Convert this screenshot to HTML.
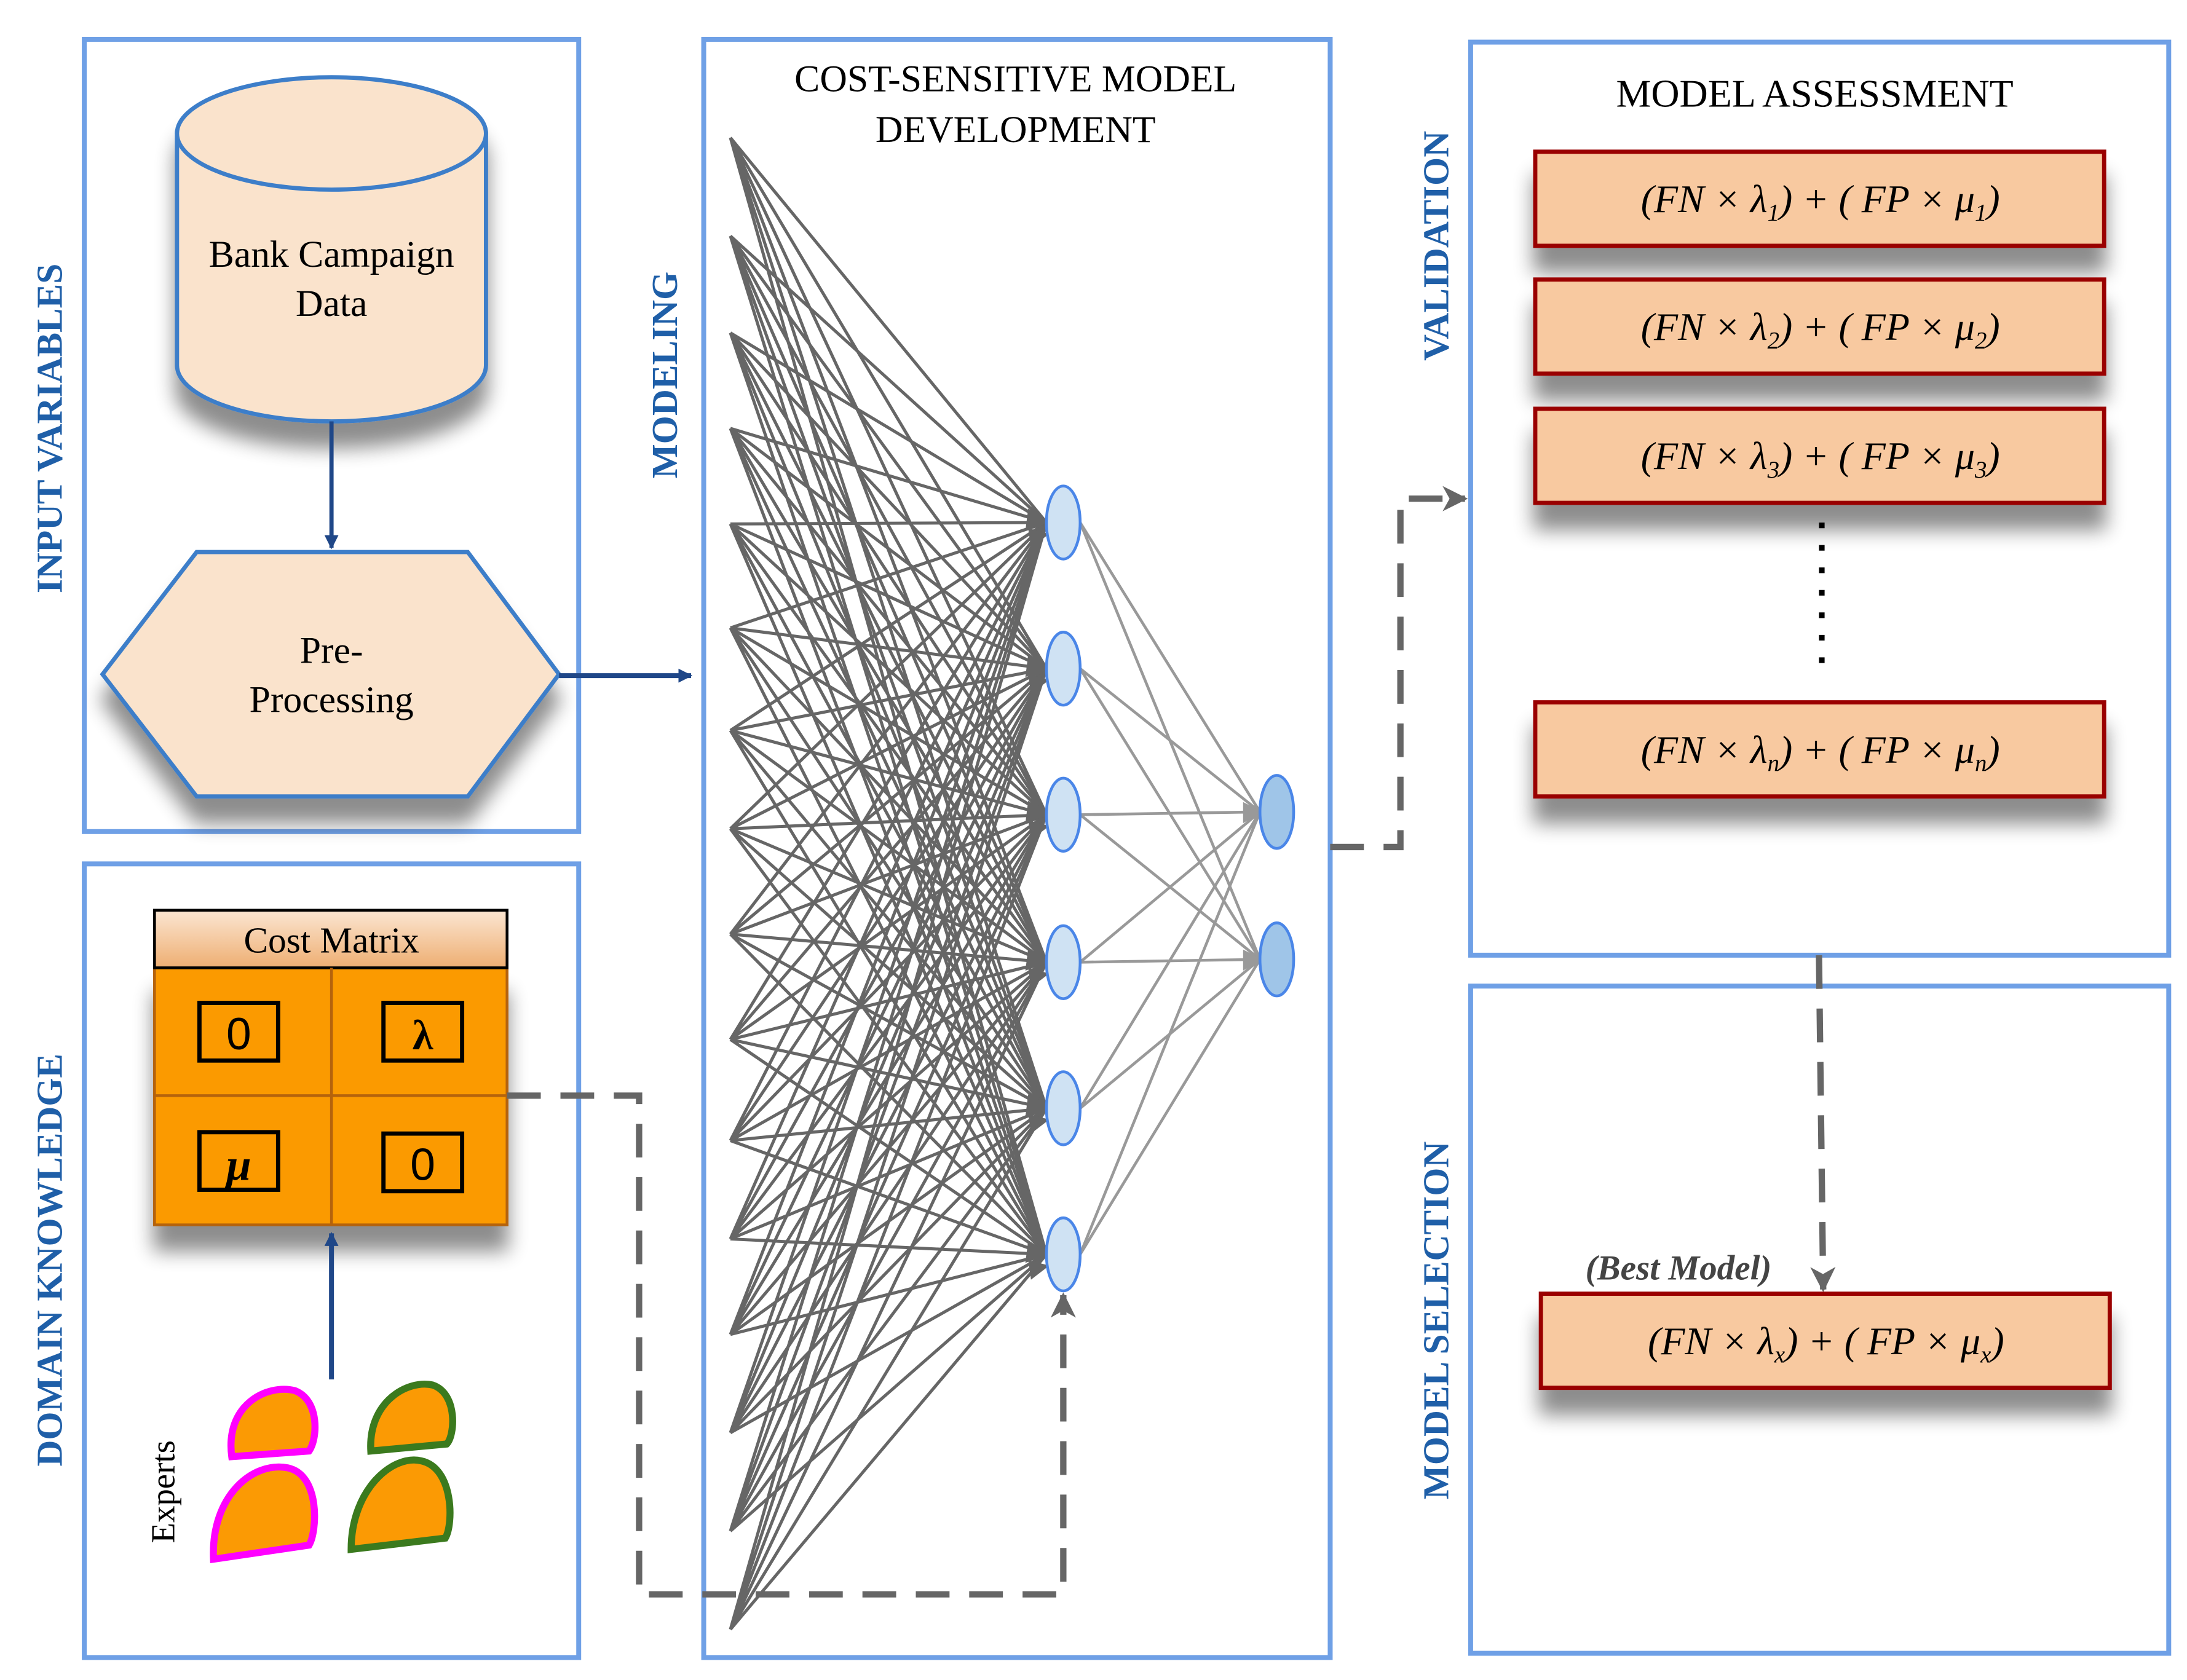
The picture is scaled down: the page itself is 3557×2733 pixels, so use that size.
<!DOCTYPE html>
<html><head><meta charset="utf-8"><style>
html,body{margin:0;padding:0;background:#fff}
svg{display:block}
text{font-family:"Liberation Serif",serif}
</style></head><body>
<svg width="3557" height="2733" viewBox="0 0 1557 1196" preserveAspectRatio="none" xmlns="http://www.w3.org/2000/svg">
<defs>
<filter id="sh" x="-20%" y="-20%" width="140%" height="160%"><feGaussianBlur in="SourceAlpha" stdDeviation="7"/><feOffset dx="0" dy="18"/><feComponentTransfer><feFuncA type="linear" slope="0.45"/></feComponentTransfer><feMerge><feMergeNode/><feMergeNode in="SourceGraphic"/></feMerge></filter>
<linearGradient id="hg" x1="0" y1="0" x2="0" y2="1"><stop offset="0" stop-color="#fbe6d2"/><stop offset="1" stop-color="#eeae72"/></linearGradient>
<marker id="ab" markerWidth="10" markerHeight="10" refX="9" refY="5" orient="auto" markerUnits="userSpaceOnUse"><path d="M0 0 L10 5 L0 10 Z" fill="#1f4788"/></marker>
<marker id="ag" markerWidth="18" markerHeight="18" refX="16" refY="9" orient="auto" markerUnits="userSpaceOnUse"><path d="M0 0 L18 9 L0 18 L5 9 Z" fill="#666"/></marker>
</defs>

<g fill="none" stroke="#6fa0e6" stroke-width="3.5">
<rect x="60" y="28" width="352" height="564"/>
<rect x="60" y="615" width="352" height="565"/>
<rect x="501" y="28" width="446" height="1152"/>
<rect x="1047" y="30" width="497" height="650"/>
<rect x="1047" y="702" width="497" height="475"/>
</g>

<g fill="#1f5fa8" font-weight="bold" font-size="26" text-anchor="middle">
<text transform="translate(44,305) rotate(-90)">INPUT VARIABLES</text>
<text transform="translate(44,897) rotate(-90)">DOMAIN KNOWLEDGE</text>
<text transform="translate(482,267) rotate(-90)">MODELING</text>
<text transform="translate(1031,175) rotate(-90)">VALIDATION</text>
<text transform="translate(1031,940) rotate(-90)">MODEL SELECTION</text>
</g>

<g filter="url(#sh)">
<path d="M126 95 L126 260 A110 40 0 0 0 346 260 L346 95 Z" fill="#fae3cc" stroke="#3d7ec9" stroke-width="3"/>
<ellipse cx="236" cy="95" rx="110" ry="40" fill="#fae3cc" stroke="#3d7ec9" stroke-width="3"/>
</g>
<text x="236" y="190" font-size="27" text-anchor="middle">Bank Campaign</text>
<text x="236" y="225" font-size="27" text-anchor="middle">Data</text>
<line x1="236" y1="300" x2="236" y2="390" stroke="#1f4788" stroke-width="3" marker-end="url(#ab)"/>

<polygon points="73,480 140,393 333,393 398,480 333,567 140,567" fill="#fae3cc" stroke="#3d7ec9" stroke-width="3" filter="url(#sh)"/>
<text x="236" y="472" font-size="27" text-anchor="middle">Pre-</text>
<text x="236" y="507" font-size="27" text-anchor="middle">Processing</text>
<line x1="398" y1="481" x2="492" y2="481" stroke="#1f4788" stroke-width="3.5" marker-end="url(#ab)"/>

<g filter="url(#sh)">
<rect x="110" y="689" width="251" height="183" fill="#fb9a04" stroke="#b5630c" stroke-width="2"/>
</g>
<rect x="110" y="648" width="251" height="41" fill="url(#hg)" stroke="#000" stroke-width="2"/>
<line x1="236" y1="689" x2="236" y2="872" stroke="#b5630c" stroke-width="2"/>
<line x1="110" y1="780" x2="361" y2="780" stroke="#b5630c" stroke-width="2"/>
<text x="236" y="678" font-size="26" text-anchor="middle">Cost Matrix</text>
<g fill="none" stroke="#000" stroke-width="3">
<rect x="142" y="714" width="56" height="41"/>
<rect x="273" y="714" width="56" height="41"/>
<rect x="142" y="806" width="56" height="41"/>
<rect x="273" y="807" width="56" height="41"/>
</g>
<text x="170" y="747" font-size="32" text-anchor="middle" style="font-family:'Liberation Sans',sans-serif">0</text>
<text x="301" y="840" font-size="32" text-anchor="middle" style="font-family:'Liberation Sans',sans-serif">0</text>
<text x="301" y="747" font-size="30" font-weight="bold" text-anchor="middle">λ</text>
<text x="170" y="840" font-size="32" font-weight="bold" font-style="italic" text-anchor="middle">μ</text>
<line x1="236" y1="982" x2="236" y2="878" stroke="#1f4788" stroke-width="3.5" marker-end="url(#ab)"/>

<g stroke-width="5" fill="#fb9a04">
<path d="M165 1037 C160 1000 190 985 210 990 C228 997 226 1025 220 1033 Z" stroke="#ff00ff"/>
<path d="M152 1110 C150 1065 180 1040 205 1045 C228 1050 226 1090 220 1100 Z" stroke="#ff00ff"/>
<path d="M264 1033 C262 998 290 982 308 986 C326 992 324 1022 318 1028 Z" stroke="#3b7a1e"/>
<path d="M250 1103 C250 1060 280 1035 300 1040 C323 1045 323 1085 317 1095 Z" stroke="#3b7a1e"/>
</g>
<text transform="translate(124,1062) rotate(-90)" font-size="24" text-anchor="middle">Experts</text>

<text x="723" y="65" font-size="27" text-anchor="middle">COST-SENSITIVE MODEL</text>
<text x="723" y="101" font-size="27" text-anchor="middle">DEVELOPMENT</text>

<g stroke="#666" stroke-width="2.2" fill="none">
<path d="M520 98 L745 372 M520 98 L745 476 M520 98 L745 580 M520 98 L745 685 M520 98 L745 789 M520 98 L745 893"/>
<path d="M520 168 L745 372 M520 168 L745 476 M520 168 L745 580 M520 168 L745 685 M520 168 L745 789 M520 168 L745 893"/>
<path d="M520 237 L745 372 M520 237 L745 476 M520 237 L745 580 M520 237 L745 685 M520 237 L745 789 M520 237 L745 893"/>
<path d="M520 305 L745 372 M520 305 L745 476 M520 305 L745 580 M520 305 L745 685 M520 305 L745 789 M520 305 L745 893"/>
<path d="M520 373 L745 372 M520 373 L745 476 M520 373 L745 580 M520 373 L745 685 M520 373 L745 789 M520 373 L745 893"/>
<path d="M520 447 L745 372 M520 447 L745 476 M520 447 L745 580 M520 447 L745 685 M520 447 L745 789 M520 447 L745 893"/>
<path d="M520 520 L745 372 M520 520 L745 476 M520 520 L745 580 M520 520 L745 685 M520 520 L745 789 M520 520 L745 893"/>
<path d="M520 590 L745 372 M520 590 L745 476 M520 590 L745 580 M520 590 L745 685 M520 590 L745 789 M520 590 L745 893"/>
<path d="M520 665 L745 372 M520 665 L745 476 M520 665 L745 580 M520 665 L745 685 M520 665 L745 789 M520 665 L745 893"/>
<path d="M520 740 L745 372 M520 740 L745 476 M520 740 L745 580 M520 740 L745 685 M520 740 L745 789 M520 740 L745 893"/>
<path d="M520 812 L745 372 M520 812 L745 476 M520 812 L745 580 M520 812 L745 685 M520 812 L745 789 M520 812 L745 893"/>
<path d="M520 882 L745 372 M520 882 L745 476 M520 882 L745 580 M520 882 L745 685 M520 882 L745 789 M520 882 L745 893"/>
<path d="M520 950 L745 372 M520 950 L745 476 M520 950 L745 580 M520 950 L745 685 M520 950 L745 789 M520 950 L745 893"/>
<path d="M520 1020 L745 372 M520 1020 L745 476 M520 1020 L745 580 M520 1020 L745 685 M520 1020 L745 789 M520 1020 L745 893"/>
<path d="M520 1090 L745 372 M520 1090 L745 476 M520 1090 L745 580 M520 1090 L745 685 M520 1090 L745 789 M520 1090 L745 893"/>
<path d="M520 1160 L745 372 M520 1160 L745 476 M520 1160 L745 580 M520 1160 L745 685 M520 1160 L745 789 M520 1160 L745 893"/>
</g>
<g fill="#666">
<path d="M732 362 L747 372 L730 378 Z M732 376 L747 380 L734 390 Z"/>
<path d="M732 466 L747 476 L730 482 Z M732 480 L747 484 L734 494 Z"/>
<path d="M732 570 L747 580 L730 586 Z M732 584 L747 588 L734 598 Z"/>
<path d="M732 675 L747 685 L730 691 Z M732 689 L747 693 L734 703 Z"/>
<path d="M732 779 L747 789 L730 795 Z M732 793 L747 797 L734 807 Z"/>
<path d="M732 883 L747 893 L730 899 Z M732 897 L747 901 L734 911 Z"/>
</g>

<g stroke="#999" stroke-width="2" fill="none">
<path d="M769 372 L897 578 M769 372 L897 683 M769 476 L897 578 M769 476 L897 683 M769 580 L897 578 M769 580 L897 683 M769 685 L897 578 M769 685 L897 683 M769 789 L897 578 M769 789 L897 683 M769 893 L897 578 M769 893 L897 683"/>
</g>
<g fill="#999"><path d="M885 571 L899 578 L885 586 Z M885 676 L899 683 L885 691 Z"/></g>

<g fill="#cfe2f3" stroke="#4a86e8" stroke-width="2">
<ellipse cx="757" cy="372" rx="12" ry="26"/>
<ellipse cx="757" cy="476" rx="12" ry="26"/>
<ellipse cx="757" cy="580" rx="12" ry="26"/>
<ellipse cx="757" cy="685" rx="12" ry="26"/>
<ellipse cx="757" cy="789" rx="12" ry="26"/>
<ellipse cx="757" cy="893" rx="12" ry="26"/>
</g>
<g fill="#9fc5e8" stroke="#4a86e8" stroke-width="2">
<ellipse cx="909" cy="578" rx="12" ry="26"/>
<ellipse cx="909" cy="683" rx="12" ry="26"/>
</g>

<g stroke="#666" stroke-width="4.5" fill="none" stroke-dasharray="24,14">
<path d="M361 780 L455 780 L455 1135 L757 1135 L757 922" marker-end="url(#ag)"/>
<path d="M947 603 L997 603 L997 355 L1043 355" marker-end="url(#ag)"/>
<path d="M1295 680 L1298 918" marker-end="url(#ag)"/>
</g>

<text x="1292" y="76" font-size="28" text-anchor="middle">MODEL ASSESSMENT</text>
<g fill="#f8c9a0" stroke="#9a0000" stroke-width="3" filter="url(#sh)">
<rect x="1093" y="108" width="405" height="67"/>
<rect x="1093" y="199" width="405" height="67"/>
<rect x="1093" y="291" width="405" height="67"/>
<rect x="1093" y="500" width="405" height="67"/>
<rect x="1097" y="921" width="405" height="67"/>
</g>
<g font-size="28" font-style="italic" text-anchor="middle">
<text x="1296" y="151">(FN × λ<tspan font-size="17" dy="6">1</tspan><tspan dy="-6">) + ( FP × μ</tspan><tspan font-size="17" dy="6">1</tspan><tspan dy="-6">)</tspan></text>
<text x="1296" y="242">(FN × λ<tspan font-size="17" dy="6">2</tspan><tspan dy="-6">) + ( FP × μ</tspan><tspan font-size="17" dy="6">2</tspan><tspan dy="-6">)</tspan></text>
<text x="1296" y="334">(FN × λ<tspan font-size="17" dy="6">3</tspan><tspan dy="-6">) + ( FP × μ</tspan><tspan font-size="17" dy="6">3</tspan><tspan dy="-6">)</tspan></text>
<text x="1296" y="543">(FN × λ<tspan font-size="17" dy="6">n</tspan><tspan dy="-6">) + ( FP × μ</tspan><tspan font-size="17" dy="6">n</tspan><tspan dy="-6">)</tspan></text>
<text x="1300" y="964">(FN × λ<tspan font-size="17" dy="6">x</tspan><tspan dy="-6">) + ( FP × μ</tspan><tspan font-size="17" dy="6">x</tspan><tspan dy="-6">)</tspan></text>
</g>
<g stroke="#000" stroke-width="4" stroke-dasharray="4,12"><line x1="1297" y1="372" x2="1297" y2="480"/></g>
<text x="1195" y="911" font-size="25" font-style="italic" font-weight="bold" fill="#444" text-anchor="middle">(Best Model)</text>
</svg>
</body></html>
